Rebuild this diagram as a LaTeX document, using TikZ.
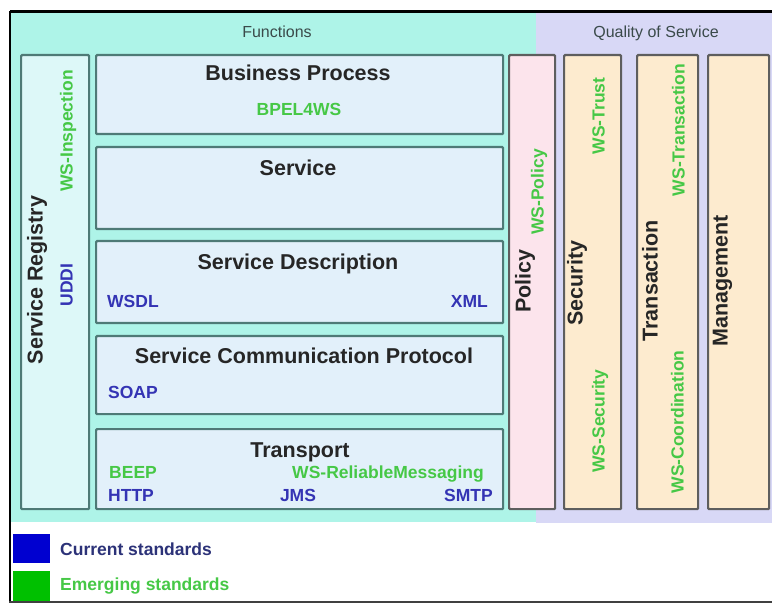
\documentclass[tikz,border=0pt]{standalone}
\usepackage{fontspec}
\setmainfont{Liberation Sans}

\definecolor{funcband}{HTML}{AEF4E8}
\definecolor{qosband}{HTML}{D8D8F6}
\definecolor{layerfill}{HTML}{E2F0FA}
\definecolor{regfill}{HTML}{DDF8F8}
\definecolor{policyfill}{HTML}{FCE4EC}
\definecolor{qosfill}{HTML}{FDEBCF}
\definecolor{tealline}{HTML}{4E7A76}
\definecolor{grayline}{HTML}{5E5E5E}
\definecolor{titlegray}{HTML}{262626}
\definecolor{headgray}{HTML}{3A4A4A}
\definecolor{curblue}{HTML}{3434B4}
\definecolor{emggreen}{HTML}{46C846}
\definecolor{legendnavy}{HTML}{2C3278}
\definecolor{legendblue}{HTML}{0000D0}
\definecolor{legendgreen}{HTML}{00C000}

\tikzset{
  panel/.style={anchor=north west, inner sep=0pt, line width=2.2pt, rounded corners=1pt},
  layerbox/.style={panel, draw=tealline, fill=layerfill},
  regbox/.style={panel, draw=tealline, fill=regfill},
  policybox/.style={panel, draw=grayline, fill=policyfill},
  qosbox/.style={panel, draw=grayline, fill=qosfill},
  heading/.style={inner sep=0pt, anchor=base, text=headgray, font=\fontsize{16}{18}\selectfont},
  title/.style={inner sep=0pt, text=titlegray, font=\bfseries\fontsize{21.5}{24}\selectfont},
  cur/.style={inner sep=0pt, text=curblue, font=\bfseries\fontsize{17.5}{20}\selectfont},
  emg/.style={inner sep=0pt, text=emggreen, font=\bfseries\fontsize{17.5}{20}\selectfont},
  vtitle/.style={title, rotate=90, anchor=mid},
  vcur/.style={cur, rotate=90, anchor=mid},
  vemg/.style={emg, rotate=90, anchor=mid},
}

\begin{document}
\begin{tikzpicture}[x=1pt, y=-1pt]
  \useasboundingbox (0,0) rectangle (772,604);
  \fill[white] (0,0) rectangle (772,604);

  % background bands
  \fill[funcband] (11,13) rectangle (536,522);
  \fill[qosband] (536,13) rectangle (772,523);
  \node[heading] (functions) at (277,38) {Functions};
  \node[heading] (qos) at (656,38) {Quality of Service};

  % service registry column
  \node[regbox, minimum width=68pt, minimum height=454pt] (reg) at (20,54) {};
  \node[vtitle] (regtitle) at (40,280) {Service Registry};
  \node[vemg] (wsinsp) at (70,131) {WS-Inspection};
  \node[vcur] (uddi) at (70,285) {UDDI};

  % functional layers
  \node[layerbox, minimum width=407pt, minimum height=79pt] (bp) at (95,54) {};
  \node[title, anchor=base] (bptitle) at (298,81) {Business Process};
  \node[emg, anchor=base] (bpel) at (299,116) {BPEL4WS};

  \node[layerbox, minimum width=407pt, minimum height=82pt] (svc) at (95,146) {};
  \node[title, anchor=base] (svctitle) at (298,176) {Service};

  \node[layerbox, minimum width=407pt, minimum height=82pt] (desc) at (95,240) {};
  \node[title, anchor=base] (desctitle) at (298,270) {Service Description};
  \node[cur, anchor=base west] (wsdl) at (107,308) {WSDL};
  \node[cur, anchor=base east] (xml) at (488,308) {XML};

  \node[layerbox, minimum width=407pt, minimum height=78pt] (comm) at (95,335) {};
  \node[title, anchor=base] (commtitle) at (304,363) {Service Communication Protocol};
  \node[cur, anchor=base west] (soap) at (108,399) {SOAP};

  \node[layerbox, minimum width=407pt, minimum height=80pt] (trans) at (95,428) {};
  \node[title, anchor=base] (transtitle) at (300,457) {Transport};
  \node[emg, anchor=base west] (beep) at (109,478) {BEEP};
  \node[emg, anchor=base east] (wsrm) at (484,478) {WS-ReliableMessaging};
  \node[cur, anchor=base west] (http) at (108,501) {HTTP};
  \node[cur, anchor=base] (jms) at (298,501) {JMS};
  \node[cur, anchor=base east] (smtp) at (493,501) {SMTP};

  % quality of service columns
  \node[policybox, minimum width=46pt, minimum height=454pt] (pol) at (508,54) {};
  \node[vtitle] (poltitle) at (528,281) {Policy};
  \node[vemg] (wspol) at (541,192) {WS-Policy};

  \node[qosbox, minimum width=57pt, minimum height=454pt] (sec) at (563,54) {};
  \node[vtitle] (sectitle) at (580,283) {Security};
  \node[vemg] (wstrust) at (602,116) {WS-Trust};
  \node[vemg] (wssec) at (602,421) {WS-Security};

  \node[qosbox, minimum width=61pt, minimum height=454pt] (txn) at (636,54) {};
  \node[vtitle] (txntitle) at (655,281) {Transaction};
  \node[vemg] (wstxn) at (682,130) {WS-Transaction};
  \node[vemg] (wscoord) at (681,422) {WS-Coordination};

  \node[qosbox, minimum width=61pt, minimum height=454pt] (mgmt) at (707,54) {};
  \node[vtitle] (mgmttitle) at (725,281) {Management};

  % legend
  \node[anchor=north west, inner sep=0pt, fill=legendblue, minimum width=37pt, minimum height=29pt] (keycur) at (13,534) {};
  \node[anchor=north west, inner sep=0pt, fill=legendgreen, minimum width=37pt, minimum height=31pt] (keyemg) at (13,571) {};
  \node[cur, text=legendnavy, anchor=base west] (curlabel) at (60,555) {Current standards};
  \node[emg, anchor=base west] (emglabel) at (60,590) {Emerging standards};

  % outer frame
  \draw[black, line width=3pt] (10,12) -- (772,12);
  \draw[black, line width=2pt] (10,11) -- (10,603);
  \draw[black!75, line width=2pt] (9,602) -- (772,602);
\end{tikzpicture}
\end{document}
